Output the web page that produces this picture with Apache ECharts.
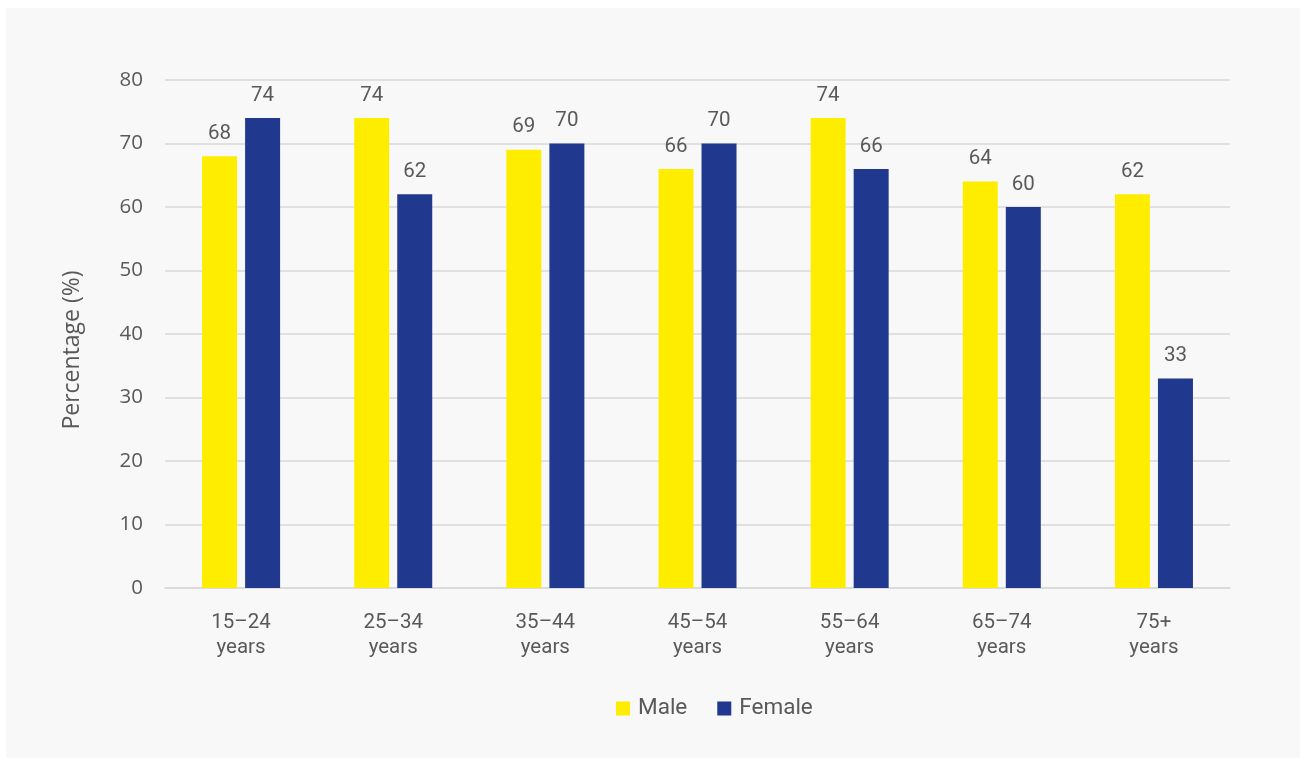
<!DOCTYPE html>
<html><head><meta charset="utf-8">
<script src="https://cdn.jsdelivr.net/npm/echarts@6/dist/echarts.min.js"></script>
<style>
html,body{margin:0;padding:0;background:#fff;width:1306px;height:760px;overflow:hidden}
#c{position:absolute;left:6px;top:8px;width:1294px;height:750px;background:#f8f8f8}
</style></head>
<body><div id="c"></div>
<script>
const categories = ['15–24\nyears','25–34\nyears','35–44\nyears','45–54\nyears','55–64\nyears','65–74\nyears','75+\nyears'];
const male = [68,74,69,66,74,64,62];
const female = [74,62,70,70,66,60,33];
const seriesNames = ['Male','Female'];
const yTitle = 'Percentage (%)';

const chart = echarts.init(document.getElementById('c'));
const font = 'Roboto, "Noto Sans", sans-serif';
const font2 = '"Open Sans", Roboto, sans-serif';
const txt = '#595959';
const labelCfg = {show:true, position:'top', distance:12, color:txt, fontSize:20.5, fontFamily:font};
chart.setOption({
  backgroundColor:'#f8f8f8',
  animation:false,
  grid:{left:159, right:70, top:72, bottom:170, containLabel:false},
  legend:{top:684, left:605, itemWidth:14, itemHeight:14, itemGap:30,
    icon:'rect', textStyle:{color:txt, fontSize:22.5, fontFamily:font, padding:[0,0,0,3]}, data:seriesNames},
  graphic:[{type:'text', x:66, y:342, rotation:Math.PI/2,
    style:{text:yTitle, fill:txt, fontSize:23, fontFamily:font2, textAlign:'center', textVerticalAlign:'middle'}}],
  xAxis:{type:'category', data:categories,
    axisLine:{lineStyle:{color:'#d9d9d9', width:1.5}}, axisTick:{show:false},
    axisLabel:{color:txt, fontSize:20.5, fontFamily:font, margin:22, lineHeight:25, interval:0}},
  yAxis:{type:'value', min:0, max:80, interval:10,
    axisLine:{show:false}, axisTick:{show:false},
    splitLine:{lineStyle:{color:'#d9d9d9', width:1.5}},
    axisLabel:{color:txt, fontSize:20.5, fontFamily:font2, margin:22}},
  series:[
    {name:seriesNames[0], type:'bar', data:male, barWidth:35, barGap:'23%',
      itemStyle:{color:'#FFED00'}, label:labelCfg},
    {name:seriesNames[1], type:'bar', data:female, barWidth:35,
      itemStyle:{color:'#21388F'}, label:labelCfg}
  ]
});
</script></body></html>
